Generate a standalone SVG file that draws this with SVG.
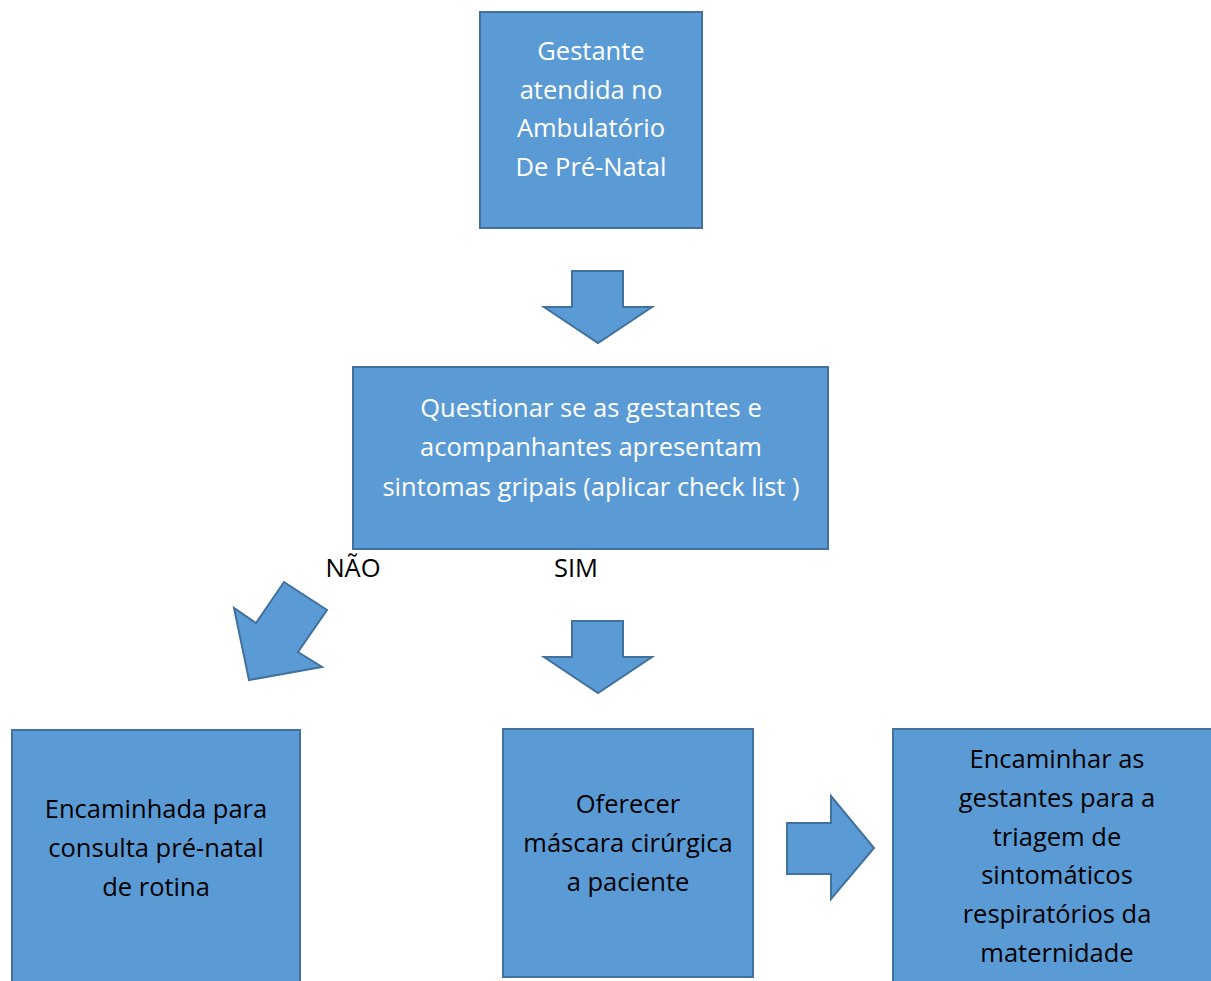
<svg xmlns="http://www.w3.org/2000/svg" width="1211" height="981" viewBox="0 0 1211 981">
<style>
.box{fill:#5B9BD5;stroke:#41719C;stroke-width:2}
.arr{fill:#5B9BD5;stroke:#41719C;stroke-width:2;stroke-linejoin:miter}
text{font-family:"Open Sans",Lato,sans-serif;font-size:25.5px;text-anchor:middle}
.w{fill:#FFFFFF}
.k{fill:#000000}
</style>
<rect width="1211" height="981" fill="#FFFFFF"/>
<g id="node-gestante">
<rect class="box" x="480" y="12" width="222" height="216"/>
<text class="w" x="591" y="60">Gestante</text>
<text class="w" x="591" y="99">atendida no</text>
<text class="w" x="591" y="137">Ambulatório</text>
<text class="w" x="591" y="176">De Pré-Natal</text>
</g>
<g id="node-questionar">
<rect class="box" x="353" y="367" width="475" height="182"/>
<text class="w" x="591" y="417">Questionar se as gestantes e</text>
<text class="w" x="591" y="456">acompanhantes apresentam</text>
<text class="w" x="591" y="496">sintomas gripais (aplicar check list )</text>
</g>
<g id="node-rotina">
<rect class="box" x="12" y="730" width="288" height="260"/>
<text class="k" x="156" y="818">Encaminhada para</text>
<text class="k" x="156" y="857">consulta pré-natal</text>
<text class="k" x="156" y="896">de rotina</text>
</g>
<g id="node-mascara">
<rect class="box" x="503" y="729" width="250" height="248"/>
<text class="k" x="628" y="813">Oferecer</text>
<text class="k" x="628" y="852">máscara cirúrgica</text>
<text class="k" x="628" y="891">a paciente</text>
</g>
<g id="node-triagem">
<rect class="box" x="893" y="729" width="330" height="260"/>
<text class="k" x="1057" y="768">Encaminhar as</text>
<text class="k" x="1057" y="807">gestantes para a</text>
<text class="k" x="1057" y="846">triagem de</text>
<text class="k" x="1057" y="884">sintomáticos</text>
<text class="k" x="1057" y="923">respiratórios da</text>
<text class="k" x="1057" y="962">maternidade</text>
</g>
<g id="connectors">
<polygon class="arr" points="572,271 623,271 623,307 652,307 598,343 544,307 572,307"/>
<polygon class="arr" points="572,621 623,621 623,657 652,657 598,693 544,657 572,657"/>
<polygon class="arr" points="284,582 327,610 298,652 322,667 249,680 234,608 256,623"/>
<polygon class="arr" points="787,823 831,823 831,796 874,848 831,899 831,874 787,874"/>
<text class="k" x="353" y="577">NÃO</text>
<text class="k" x="576" y="577">SIM</text>
</g>
</svg>
